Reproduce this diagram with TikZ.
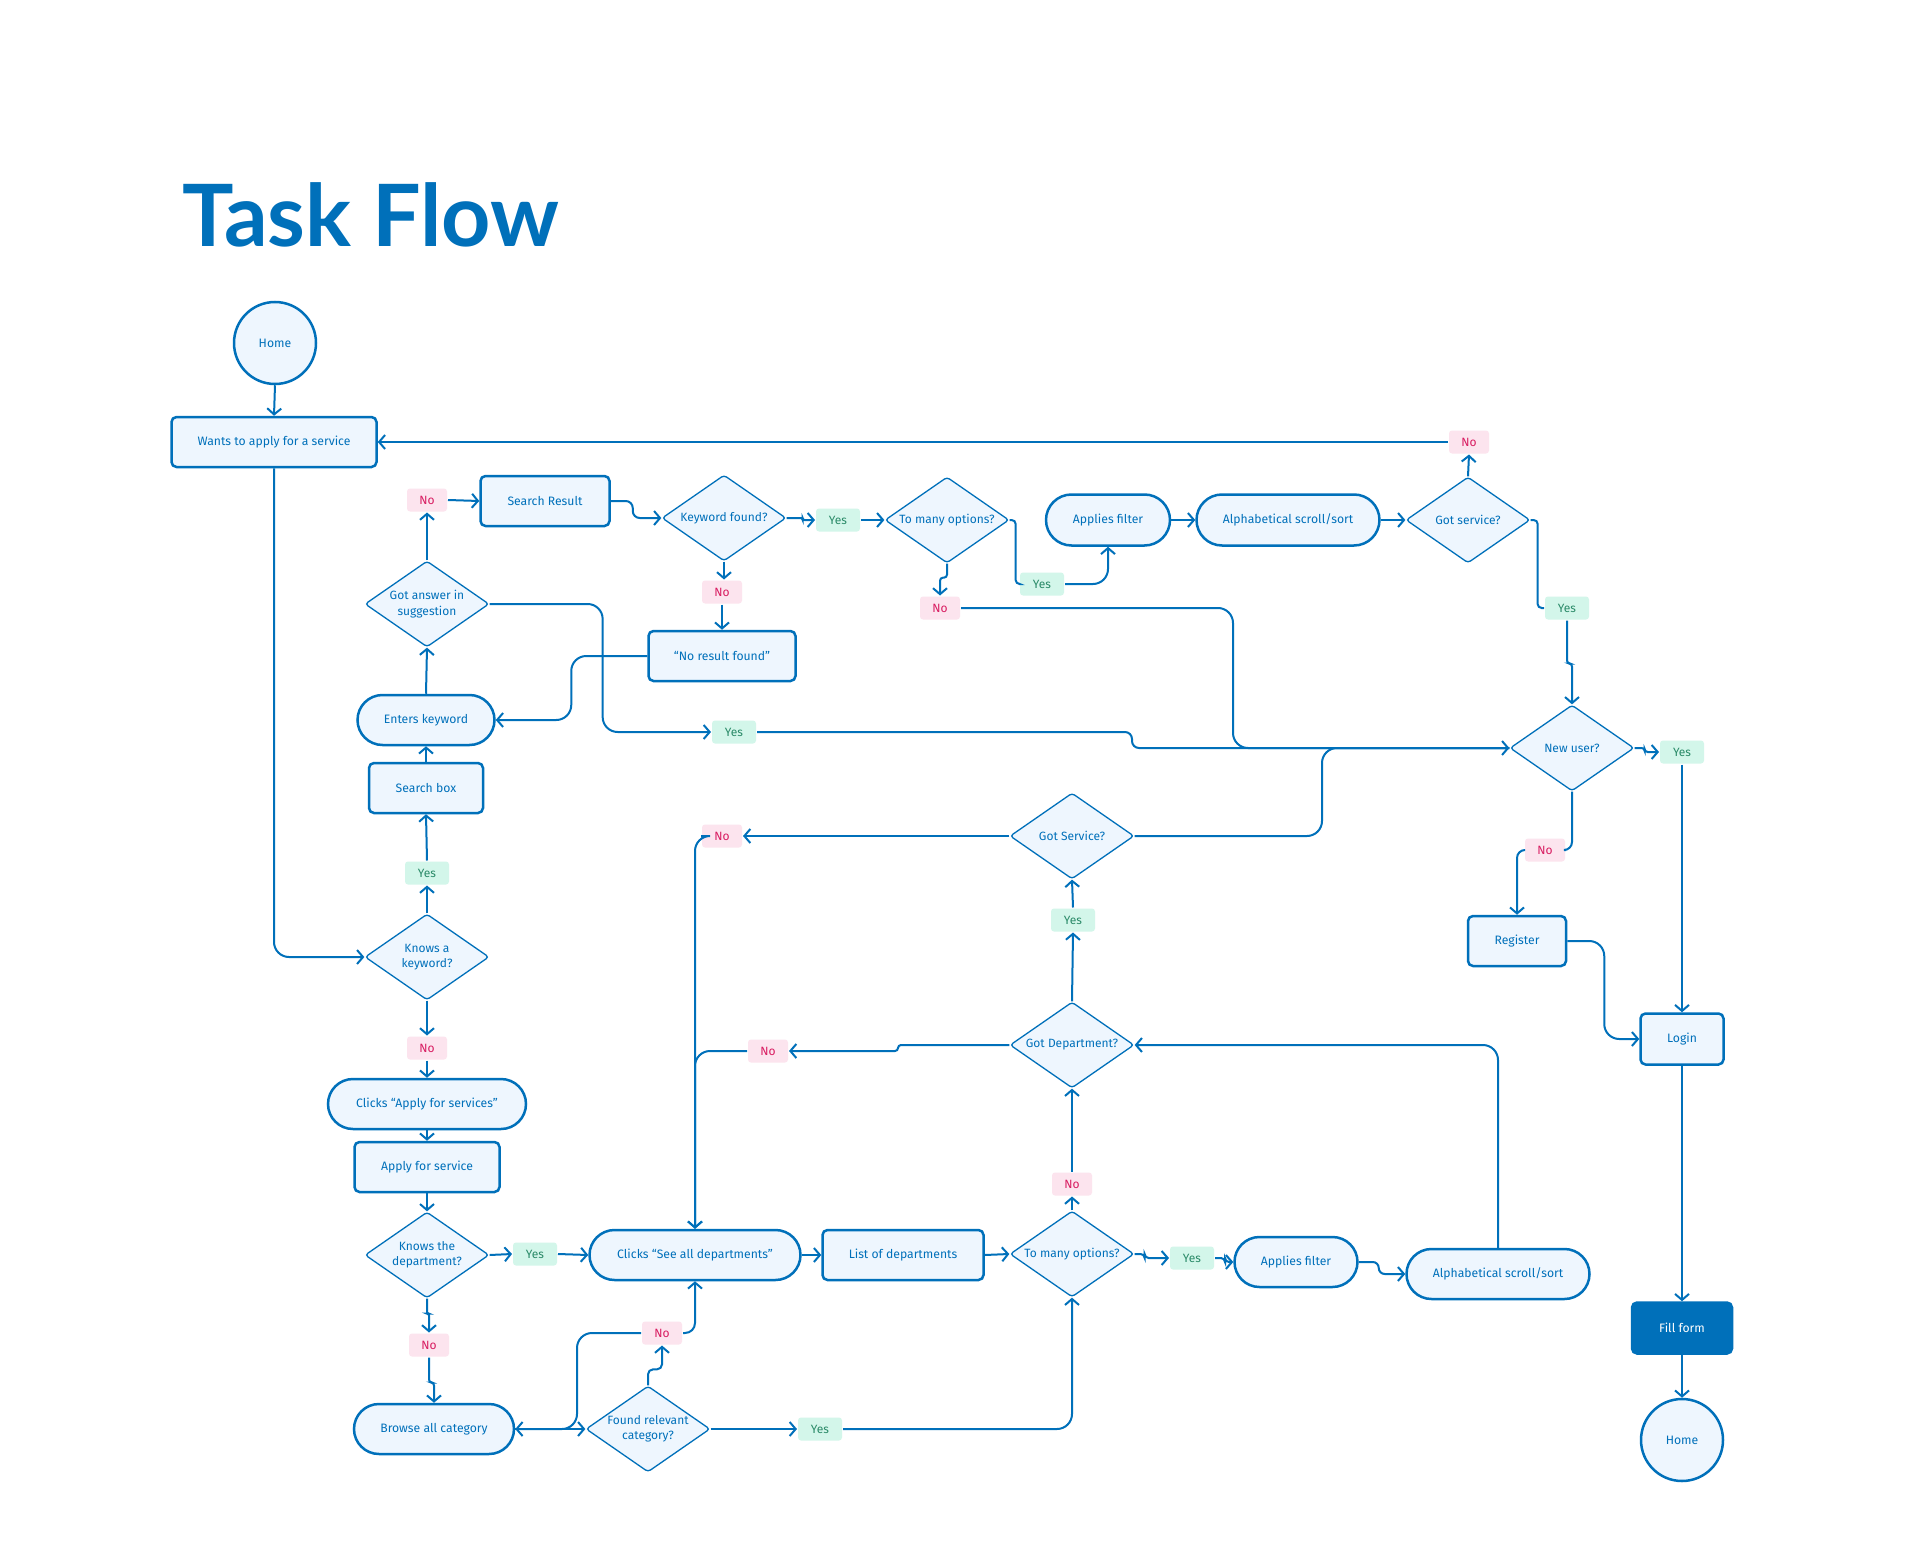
\documentclass[tikz,border=0pt]{standalone}
\usepackage{fontspec}
\setmainfont{Fira Sans}
\newfontfamily\titlefont{Lato}
\usetikzlibrary{shapes.geometric,shapes.misc,arrows.meta,calc}
\definecolor{fblue}{HTML}{0070BA}
\definecolor{ffill}{HTML}{EEF6FE}
\definecolor{yesbg}{HTML}{D3F6EA}
\definecolor{yestx}{HTML}{2A8A68}
\definecolor{nobg}{HTML}{FCE4EE}
\definecolor{notx}{HTML}{D81B60}
\begin{document}
\begin{tikzpicture}[x=1pt,y=-1pt,
  every path/.style={line width=2pt, draw=fblue},
  arr/.style={-{Straight Barb[length=6pt,width=14pt,line width=2pt]}},
  boxn/.style={rectangle, rounded corners=5pt, draw=fblue, line width=2.5pt, fill=ffill, text=fblue, inner sep=0pt, minimum height=50pt, font=\fontsize{12.2}{14}\selectfont},
  pill/.style={rounded rectangle, draw=fblue, line width=2.5pt, fill=ffill, text=fblue, inner sep=0pt, minimum height=50pt, font=\fontsize{12.2}{14}\selectfont},
  dia/.style={diamond, aspect=1.44, rounded corners=3pt, draw=fblue, line width=1.3pt, fill=ffill, text=fblue, inner sep=0pt, minimum width=124pt, minimum height=86pt, align=center, font=\fontsize{12}{15.5}\selectfont},
  circ/.style={circle, draw=fblue, line width=2.5pt, fill=ffill, text=fblue, inner sep=0pt, minimum size=82pt, font=\fontsize{12.2}{14}\selectfont},
  lbl/.style={rectangle, rounded corners=3pt, draw=none, inner sep=0pt, minimum width=40pt, minimum height=23pt, font=\fontsize{12}{14}\selectfont},
  ylbl/.style={lbl, fill=yesbg, text=yestx, minimum width=44pt},
  nlbl/.style={lbl, fill=nobg, text=notx}
]
\useasboundingbox[fill=white, draw=none] (0,0) rectangle (1920,1562);

\node[anchor=base west, inner sep=0pt, draw=none, text=fblue, font=\titlefont\bfseries\fontsize{86}{92}\selectfont] (title) at (181,247) {Task Flow};

% ---- nodes ----
\node[circ] (home1) at (275,343) {Home};
\node[boxn, minimum width=205pt] (wants) at (274,442) {Wants to apply for a service};
\node[nlbl] (noSR) at (427,500) {No};
\node[boxn, minimum width=129pt] (sres) at (545,501) {Search Result};
\node[dia] (kwf) at (724,518) {Keyword found?};
\node[ylbl] (yesKW) at (838,520) {Yes};
\node[dia] (tmo1) at (947,520) {To many options?};
\node[nlbl] (noKW) at (722,592) {No};
\node[boxn, minimum width=147pt] (nrf) at (722,656) {“No result found”};
\node[nlbl] (noTMO) at (940,608) {No};
\node[ylbl] (yesTMO) at (1042,584) {Yes};
\node[pill, minimum width=124pt, minimum height=51pt] (af1) at (1108,520) {Applies filter};
\node[pill, minimum width=183pt, minimum height=51pt] (alph1) at (1288,520) {Alphabetical scroll/sort};
\node[dia] (gs1) at (1468,520) {Got service?};
\node[nlbl] (noGS) at (1469,442) {No};
\node[ylbl] (yesGS) at (1567,608) {Yes};
\node[dia] (newu) at (1572,748) {New user?};
\node[ylbl] (yesNU) at (1682,752) {Yes};
\node[ylbl] (yesGA) at (734,732) {Yes};
\node[dia] (gotans) at (427,604) {Got answer in\\suggestion};
\node[pill, minimum width=137pt] (enters) at (426,720) {Enters keyword};
\node[boxn, minimum width=114pt] (sbox) at (426,788) {Search box};
\node[ylbl] (yesKK) at (427,873) {Yes};
\node[dia] (kak) at (427,957) {Knows a\\keyword?};
\node[nlbl] (noKK) at (427,1048) {No};
\node[pill, minimum width=198pt] (clicksA) at (427,1104) {Clicks “Apply for services”};
\node[nlbl] (noGSv) at (722,836) {No};
\node[nlbl] (noGD) at (768,1051) {No};
\node[boxn, minimum width=145pt] (apply) at (427,1167) {Apply for service};
\node[dia] (ktd) at (427,1255) {Knows the\\department?};
\node[ylbl] (yesKTD) at (535,1254) {Yes};
\node[pill, minimum width=211pt] (clicksS) at (695,1255) {Clicks “See all departments”};
\node[boxn, minimum width=161pt] (listd) at (903,1255) {List of departments};
\node[nlbl] (noKTD) at (429,1345) {No};
\node[pill, minimum width=160pt] (browse) at (434,1429) {Browse all category};
\node[dia] (frc) at (648,1429) {Found relevant\\category?};
\node[nlbl] (noFR) at (662,1333) {No};
\node[ylbl] (yesFR) at (820,1429) {Yes};
\node[dia] (tmo2) at (1072,1254) {To many options?};
\node[nlbl] (noTMO2) at (1072,1184) {No};
\node[ylbl] (yesTMO2) at (1192,1258) {Yes};
\node[pill, minimum width=123pt] (af2) at (1296,1262) {Applies filter};
\node[pill, minimum width=183pt] (alph2) at (1498,1274) {Alphabetical scroll/sort};
\node[dia] (gsv) at (1072,836) {Got Service?};
\node[ylbl] (yesGSv) at (1073,920) {Yes};
\node[dia] (gd) at (1072,1045) {Got Department?};
\node[nlbl] (noNU) at (1545,850) {No};
\node[boxn, minimum width=98pt] (reg) at (1517,941) {Register};
\node[boxn, minimum width=83pt, minimum height=51pt] (login) at (1682,1039) {Login};
\node[boxn, minimum width=100pt, minimum height=51pt, fill=fblue, text=white] (fill) at (1682,1328) {Fill form};
\node[circ] (home2) at (1682,1440) {Home};

% ---- connectors: top ----
\draw[arr] (home1.south) -- (wants.north);
\draw[arr] (gs1.north) -- (noGS.south);
\draw[arr] (noGS.west) -- (noGS.west -| wants.east);
\draw[arr, rounded corners=15pt] (wants.south) |- (kak.west);
\draw[arr] (kak.north) -- (yesKK.south);
\draw[arr] (yesKK.north) -- (sbox.south);
\draw[arr] (sbox.north) -- (enters.south);
\draw[arr] (enters.north) -- (gotans.south);
\draw[arr] (gotans.north) -- (noSR.south);
\draw[arr] (noSR.east) -- (sres.west);
\draw[arr, rounded corners=7pt] (sres.east) -- ++(22,0) |- (kwf.west);
\draw[arr, rounded corners=2pt] (kwf.east) -- ++(16,0) |- (yesKW.west);
\draw[arr] (yesKW.east) -- (tmo1.west);
\draw[arr] (kwf.south) -- (kwf.south |- noKW.north);
\draw[arr] (noKW.south) -- (nrf.north);
\draw[arr, rounded corners=15pt] (nrf.west) -- ++(-76,0) |- (enters.east);
\draw[arr, rounded corners=15pt] (gotans.east) -- ++(113,0) |- (yesGA.west);
\draw[arr, rounded corners=7pt] (yesGA.east) -| (1132,748) -- (newu.west);
\draw[arr, rounded corners=3pt] (tmo1.south) -- ++(0,14) -| (noTMO.north);
\draw[rounded corners=15pt] (noTMO.east) -| (1233,748) -- (newu.west);
\draw[rounded corners=4pt] (tmo1.east) -- ++(6,0) |- (yesTMO.west);
\draw[arr, rounded corners=15pt] (yesTMO.east) -| (af1.south);
\draw[arr] (af1.east) -- (alph1.west);
\draw[arr] (alph1.east) -- (gs1.west);
\draw[rounded corners=4pt] (gs1.east) -- ++(7,0) |- (yesGS.west);
\draw[arr, rounded corners=3pt] (yesGS.south) -- ++(0,43) -| (newu.north);
\draw[arr, rounded corners=3pt] (newu.east) -- ++(10,0) |- (yesNU.west);
\draw[arr] (yesNU.south) -- (login.north);
\draw[rounded corners=8pt] (newu.south) |- (noNU.east);
\draw[arr, rounded corners=8pt] (noNU.west) -| (reg.north);
\draw[arr, rounded corners=15pt] (reg.east) -- ++(37,0) |- (login.west);
\draw[arr] (login.south) -- (fill.north);
\draw[arr] (fill.south) -- (home2.north);

% ---- connectors: bottom ----
\draw[arr] (kak.south) -- (noKK.north);
\draw[arr] (noKK.south) -- (clicksA.north);
\draw[arr] (clicksA.south) -- (apply.north);
\draw[arr] (apply.south) -- (ktd.north);
\draw[arr] (ktd.east) -- (yesKTD.west);
\draw[arr] (yesKTD.east) -- (clicksS.west);
\draw[arr, rounded corners=2pt] (ktd.south) -- ++(0,15) -| (noKTD.north);
\draw[arr, rounded corners=3pt] (noKTD.south) -- ++(0,25) -| (browse.north);
\draw[arr] (browse.east) -- (frc.west);
\draw[arr, rounded corners=15pt] (noFR.west) -| (577,1429) -- (browse.east);
\draw[arr, rounded corners=5pt] (frc.north) -- ++(0,-16) -| (noFR.south);
\draw[arr, rounded corners=10pt] (noFR.east) -| (clicksS.south);
\draw[arr] (frc.east) -- (yesFR.west);
\draw[arr, rounded corners=15pt] (yesFR.east) -| (tmo2.south);
\draw[arr] (clicksS.east) -- (listd.west);
\draw[arr] (listd.east) -- (tmo2.west);
\draw[arr, rounded corners=4pt] (tmo2.east) -- ++(10,0) |- (yesTMO2.west);
\draw[arr, rounded corners=4pt] (yesTMO2.east) -- ++(10,0) |- (af2.west);
\draw[arr, rounded corners=6pt] (af2.east) -- ++(20,0) |- (alph2.west);
\draw[arr, rounded corners=15pt] (alph2.north) |- (gd.east);
\draw[arr] (tmo2.north) -- (noTMO2.south);
\draw[arr] (noTMO2.north) -- (gd.south);
\draw[arr] (gd.north) -- (yesGSv.south);
\draw[arr] (yesGSv.north) -- (gsv.south);
\draw[arr, rounded corners=3pt] (gd.west) -| (898,1051) -- (noGD.east);
\draw[arr, rounded corners=15pt] (noGD.west) -| (clicksS.north);
\draw[arr] (gsv.west) -- (noGSv.east);
\draw[arr, rounded corners=15pt] (noGSv.west) -| (clicksS.north);
\draw[rounded corners=15pt] (gsv.east) -| (1322,748) -- (newu.west);
\end{tikzpicture}
\end{document}
